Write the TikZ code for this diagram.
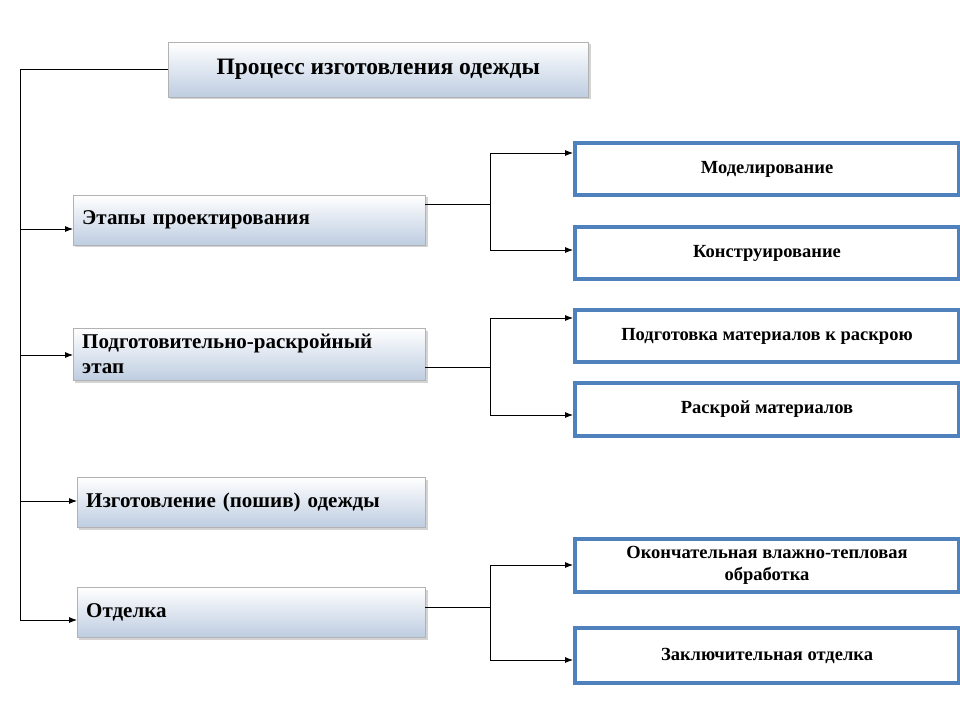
\documentclass[tikz,border=0pt]{standalone}
\usepackage{fontspec}
\setmainfont{Liberation Serif}
\usetikzlibrary{positioning,shadows,arrows.meta}
\definecolor{framebl}{RGB}{79,129,189}
\definecolor{stagebl}{RGB}{190,205,225}
\begin{document}
\begin{tikzpicture}[x=1pt, y=-1pt, thick, >={Latex[length=8pt,width=6pt]},
    stage/.style = {draw=gray!60, thin, top color=white, bottom color=stagebl, drop shadow={opacity=0.35}, anchor=north west, inner sep=0pt},
    task/.style  = {draw=framebl, line width=4pt, fill=white, anchor=north west, inner sep=0pt, font=\fontsize{18.5}{22}\selectfont\bfseries, align=center}]
    \useasboundingbox (0,0) rectangle (960,720);

    % Title
    \node[stage, minimum width=420, minimum height=55, font=\fontsize{23.5}{26}\selectfont\bfseries] (title) at (168,42) {Процесс изготовления одежды};

    % Stages (left column)
    \node[stage, minimum width=352, minimum height=50, font=\fontsize{21}{24}\selectfont\bfseries, text width=334, align=left] (s1) at (73,195) {Этапы проектирования};
    \node[stage, minimum width=352, minimum height=52, font=\fontsize{21}{25}\selectfont\bfseries, text width=334, align=left] (s2) at (73,328) {Подготовительно-раскройный\\этап};
    \node[stage, minimum width=348, minimum height=50, font=\fontsize{21}{24}\selectfont\bfseries, text width=330, align=left] (s3) at (77,477) {Изготовление (пошив) одежды};
    \node[stage, minimum width=348, minimum height=50, font=\fontsize{21}{24}\selectfont\bfseries, text width=330, align=left] (s4) at (77,587) {Отделка};

    % Tasks (right column)
    \node[task, minimum width=384, minimum height=52] (t1) at (573,141) {Моделирование};
    \node[task, minimum width=384, minimum height=52] (t2) at (573,225) {Конструирование};
    \node[task, minimum width=384, minimum height=52] (t3) at (573,308) {Подготовка материалов к раскрою};
    \node[task, minimum width=384, minimum height=53] (t4) at (573,381) {Раскрой материалов};
    \node[task, minimum width=384, minimum height=53] (t5) at (573,537) {Окончательная влажно-тепловая\\обработка};
    \node[task, minimum width=384, minimum height=55] (t6) at (573,626) {Заключительная отделка};

    % Trunk
    \coordinate (top) at (20,69);
    \draw (title.west |- top) -- (top) -- (20,620);
    \draw[->] (20,229) -- (s1.west |- 0,229);
    \draw[->] (20,355) -- (s2.west |- 0,355);
    \draw[->] (20,501) -- (s3.west |- 0,501);
    \draw[->] (20,620) -- (s4.west |- 0,620);

    % Branches
    \draw (s1.east |- 0,204) -- (490,204);
    \draw[->] (490,250) -- (490,153) -- (t1.west |- 0,153);
    \draw[->] (490,204) -- (490,250) -- (t2.west |- 0,250);
    \draw (s2.east |- 0,367) -- (490,367);
    \draw[->] (490,415) -- (490,318) -- (t3.west |- 0,318);
    \draw[->] (490,367) -- (490,415) -- (t4.west |- 0,415);
    \draw (s4.east |- 0,607) -- (490,607);
    \draw[->] (490,660) -- (490,565) -- (t5.west |- 0,565);
    \draw[->] (490,607) -- (490,660) -- (t6.west |- 0,660);
\end{tikzpicture}
\end{document}
